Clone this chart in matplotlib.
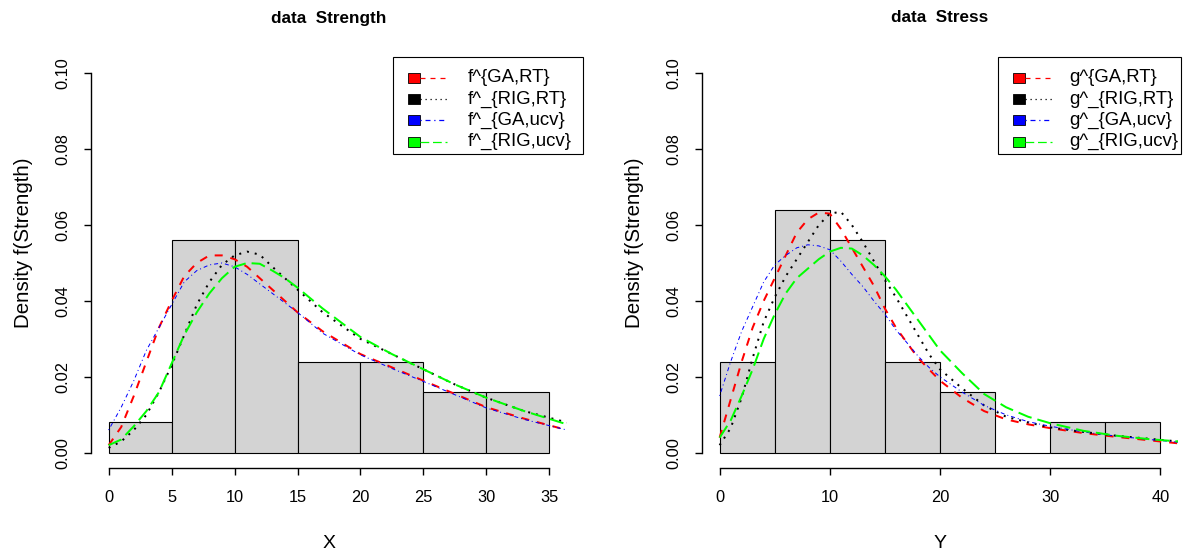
import matplotlib
matplotlib.use('Agg')
import matplotlib.pyplot as plt
from matplotlib.patches import Rectangle
from matplotlib.lines import Line2D

plt.rcParams['font.family'] = ['Liberation Sans', 'DejaVu Sans']

W, H = 1183, 556          # taille de l'image en pixels

# ---- histogrammes (largeur de classe 5) ----
bins_x = [0, 5, 10, 15, 20, 25, 30, 35]
dens_x = [0.008, 0.056, 0.056, 0.024, 0.024, 0.016, 0.016]
bins_y = [0, 5, 10, 15, 20, 25, 30, 35, 40]
dens_y = [0.024, 0.064, 0.056, 0.024, 0.016, 0.0, 0.008, 0.008]

# ---- densites estimees ----
grid_x = [0, 1, 2, 3, 4, 5, 6, 7, 8, 9, 10, 11, 12, 13, 14, 15, 17, 20, 22.5, 25, 27.5, 30, 33, 36.4]
f_ga_rt = [0.002, 0.0068, 0.015, 0.024, 0.033, 0.040, 0.0465, 0.050, 0.052, 0.052, 0.051, 0.049,
           0.046, 0.043, 0.040, 0.037, 0.032, 0.026, 0.0225, 0.019, 0.0155, 0.012, 0.009, 0.006]
f_rig_rt = [0.0013, 0.003, 0.006, 0.010, 0.016, 0.023, 0.031, 0.039, 0.045, 0.0495, 0.052, 0.053,
            0.0522, 0.049, 0.046, 0.043, 0.037, 0.030, 0.026, 0.022, 0.018, 0.0145, 0.011, 0.008]
f_ga_ucv = [0.006, 0.012, 0.019, 0.027, 0.033, 0.039, 0.045, 0.048, 0.0495, 0.050, 0.049, 0.047,
            0.0445, 0.042, 0.0395, 0.037, 0.0315, 0.0258, 0.0222, 0.0188, 0.0153, 0.0118, 0.0088, 0.006]
f_rig_ucv = [0.002, 0.0035, 0.007, 0.011, 0.016, 0.0235, 0.031, 0.037, 0.042, 0.046, 0.049, 0.050,
             0.0498, 0.048, 0.046, 0.0435, 0.038, 0.0305, 0.026, 0.022, 0.018, 0.0145, 0.011, 0.0075]

grid_y = [0, 1, 2, 3, 4, 5, 6, 7, 8, 9, 10, 11, 12, 13, 14, 15, 16, 17, 18, 19, 20,
          22, 24, 26, 28, 30, 33, 36, 39, 41.6]
g_ga_rt = [0.004, 0.014, 0.024, 0.033, 0.040, 0.046, 0.052, 0.058, 0.0615, 0.0633, 0.063, 0.059,
           0.054, 0.049, 0.044, 0.038, 0.033, 0.029, 0.025, 0.022, 0.019,
           0.0145, 0.011, 0.0088, 0.0075, 0.0065, 0.0052, 0.0042, 0.0033, 0.0025]
g_rig_rt = [0.002, 0.0065, 0.0145, 0.025, 0.0345, 0.041, 0.0465, 0.051, 0.0555, 0.060, 0.063, 0.0635,
            0.060, 0.0555, 0.0505, 0.0455, 0.041, 0.036, 0.031, 0.026, 0.022,
            0.017, 0.0125, 0.0095, 0.008, 0.0067, 0.0055, 0.0045, 0.0037, 0.003]
g_ga_ucv = [0.015, 0.024, 0.032, 0.0385, 0.045, 0.0495, 0.052, 0.054, 0.0548, 0.0545, 0.0535, 0.0505,
            0.047, 0.0438, 0.040, 0.0365, 0.0324, 0.029, 0.0255, 0.0225, 0.020,
            0.016, 0.0125, 0.010, 0.0082, 0.007, 0.0055, 0.0044, 0.0035, 0.0028]
g_rig_ucv = [0.004, 0.0085, 0.015, 0.022, 0.030, 0.0365, 0.042, 0.046, 0.0485, 0.051, 0.053, 0.054,
             0.0538, 0.052, 0.0495, 0.0465, 0.043, 0.039, 0.035, 0.031, 0.027,
             0.021, 0.0155, 0.012, 0.0095, 0.0078, 0.0058, 0.0045, 0.0036, 0.003]

leg_f = ['f^{GA,RT}', 'f^_{RIG,RT}', 'f^_{GA,ucv}', 'f^_{RIG,ucv}']
leg_g = ['g^{GA,RT}', 'g^_{RIG,RT}', 'g^_{GA,ucv}', 'g^_{RIG,ucv}']
yticks = [0.0, 0.02, 0.04, 0.06, 0.08, 0.10]

# style des courbes : couleur, epaisseur (pt), tirets
styles = [('red', 1.44, (4, 4)),
          ('black', 1.44, (1, 3)),
          ('blue', 0.72, (1, 3, 4, 3)),
          ('#00ff00', 1.44, (7, 3))]

FS = 11.8       # graduations
FS_LEG = 13.4   # legende
FS_XLAB = 14.0  # titre axe x
FS_YLAB = 14.8  # titre axe y
FS_TIT = 12.3   # titre


def fx(px):
    return px / W


def fy(py):
    return 1 - py / H


fig = plt.figure(figsize=(W / 100, H / 100), dpi=100)


def panneau(x0, bins, dens, grid, courbes, xlim, xticks, titre, xlab, leg, leg_box, txt_x):
    ax = fig.add_axes([fx(x0), fy(468), 476 / W, 410 / H])
    ax.bar(bins[:-1], dens, width=5, align='edge', color='#d3d3d3',
           edgecolor='black', linewidth=0.8)
    for c, (col, lw, ds) in zip(courbes, styles):
        ax.plot(grid, c, color=col, lw=lw, dashes=ds, dash_capstyle='butt')
    ax.set_xlim(*xlim)
    ax.set_ylim(-0.004, 0.104)
    for s in ['top', 'right']:
        ax.spines[s].set_visible(False)
    ax.spines['left'].set_bounds(0, 0.1)
    ax.spines['bottom'].set_bounds(xticks[0], xticks[-1])
    ax.spines['left'].set_linewidth(1.0)
    ax.spines['bottom'].set_linewidth(1.0)
    ax.set_xticks(xticks, [str(t) for t in xticks])
    ax.set_yticks(yticks, ['%.2f' % t for t in yticks], rotation=90, va='center')
    ax.tick_params(axis='both', direction='out', length=5.2, width=1.0, labelsize=FS)
    ax.tick_params(axis='x', pad=10.5)
    ax.tick_params(axis='y', pad=10)

    cx = x0 + 238
    fig.text(fx(cx), fy(18), titre, ha='center', va='center', fontsize=FS_TIT, weight='bold')
    fig.text(fx(cx), fy(543), xlab, ha='center', va='center', fontsize=FS_XLAB)
    fig.text(fx(x0 - 67), fy(243), 'Density f(Strength)', ha='center', va='center',
             rotation=90, fontsize=FS_YLAB)

    # legende a la R : carre rempli + trait
    bl, bt, br, bb = leg_box
    fig.patches.append(Rectangle((fx(bl), fy(bb)), (br - bl) / W, (bb - bt) / H,
                                 transform=fig.transFigure, fill=False,
                                 edgecolor='black', linewidth=0.8))
    for i, ((col, lw, ds), lab) in enumerate(zip(styles, leg)):
        yc = 78 + 21.2 * i
        sq = bl + 15
        fig.patches.append(Rectangle((fx(sq), fy(yc + 5)), 12 / W, 10 / H,
                                     transform=fig.transFigure, facecolor=col,
                                     edgecolor='black', linewidth=0.6))
        fig.lines.append(Line2D([fx(sq + 12), fx(sq + 39)], [fy(yc), fy(yc)],
                                transform=fig.transFigure, color=col, lw=0.9,
                                dashes=ds, dash_capstyle='butt'))
        fig.text(fx(txt_x), fy(yc), lab, ha='left', va='center', fontsize=FS_LEG)
    return ax


panneau(91, bins_x, dens_x, grid_x, [f_ga_rt, f_rig_rt, f_ga_ucv, f_rig_ucv],
        (-1.4, 36.4), [0, 5, 10, 15, 20, 25, 30, 35], 'data  Strength', 'X', leg_f,
        (393, 57, 583, 154), 468)
panneau(702, bins_y, dens_y, grid_y, [g_ga_rt, g_rig_rt, g_ga_ucv, g_rig_ucv],
        (-1.6, 41.6), [0, 10, 20, 30, 40], 'data  Stress', 'Y', leg_g,
        (998, 57, 1181, 154), 1069)

fig.savefig('out.png', dpi=100)
